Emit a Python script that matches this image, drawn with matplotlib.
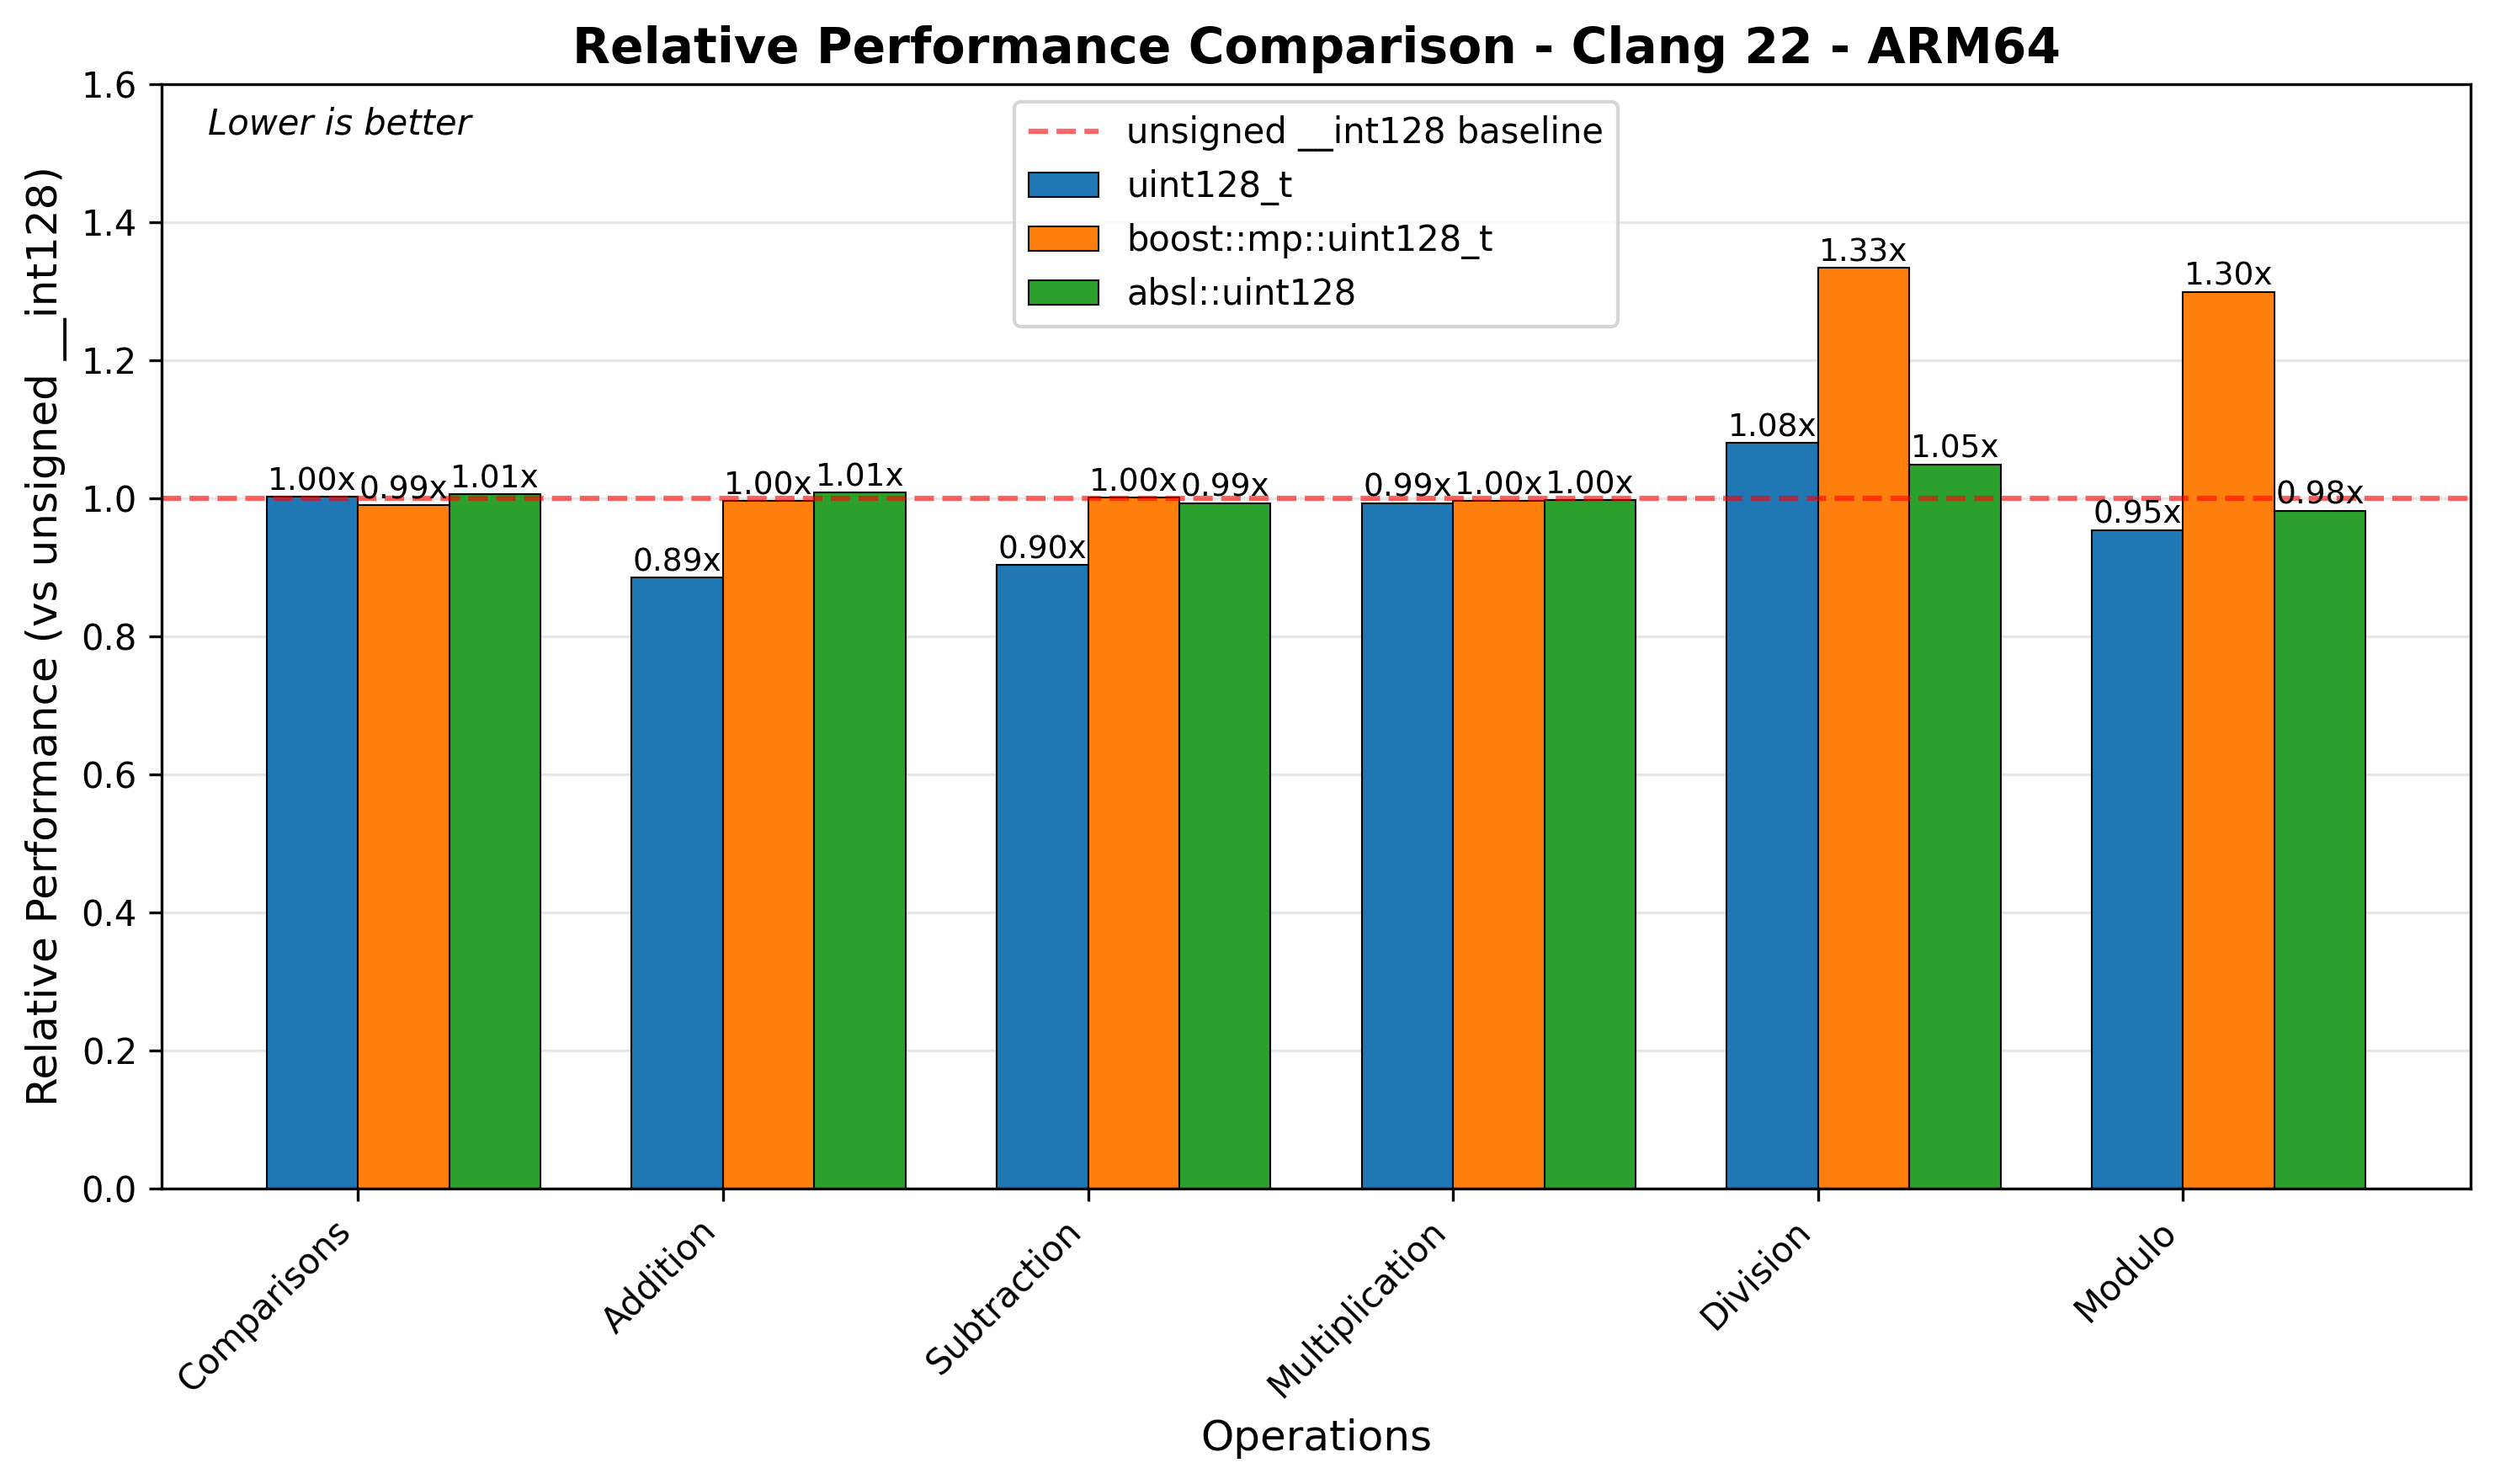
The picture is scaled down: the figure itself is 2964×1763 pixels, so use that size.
import matplotlib.pyplot as plt
import numpy as np

# Relative performance vs unsigned __int128 (lower is better)
operations = ["Comparisons", "Addition", "Subtraction", "Multiplication", "Division", "Modulo"]
uint128_t = [1.002, 0.885, 0.903, 0.993, 1.080, 0.954]
boost_mp = [0.990, 0.996, 1.001, 0.996, 1.334, 1.299]
absl_u128 = [1.006, 1.008, 0.993, 0.997, 1.049, 0.982]

series = [
    ("uint128_t", uint128_t, "#1f77b4"),
    ("boost::mp::uint128_t", boost_mp, "#ff7f0e"),
    ("absl::uint128", absl_u128, "#2ca02c"),
]

fig, ax = plt.subplots(figsize=(9.883, 5.877), dpi=300)

x = np.arange(len(operations))
width = 0.25

ax.axhline(1.0, color="red", linestyle="--", alpha=0.6, linewidth=1.5,
           label="unsigned __int128 baseline")

# offsets computed over 4 slots (baseline + 3 impls), so groups sit right of the tick
n = len(series) + 1
for i, (name, vals, color) in enumerate(series, start=1):
    offset = width * (i - (n - 1) / 2)
    bars = ax.bar(x + offset, vals, width, label=name, color=color,
                  edgecolor="black", linewidth=0.5)
    for b, v in zip(bars, vals):
        ax.text(b.get_x() + b.get_width() / 2, b.get_height(), f"{v:.2f}x",
                ha="center", va="bottom", fontsize=9)

ax.set_xlabel("Operations", fontsize=12)
ax.set_ylabel("Relative Performance (vs unsigned __int128)", fontsize=12)
ax.set_title("Relative Performance Comparison - Clang 22 - ARM64", fontsize=14, fontweight="bold")
ax.set_xticks(x)
ax.set_xticklabels(operations, rotation=45, ha="right")
ax.set_ylim(0, 1.6)
ax.grid(axis="y", alpha=0.3)
ax.set_axisbelow(True)
ax.legend(loc="upper center")
ax.text(0.02, 0.98, "Lower is better", transform=ax.transAxes, fontsize=10,
        style="italic", va="top")

fig.subplots_adjust(left=0.0648, right=0.9899, top=0.9433, bottom=0.1991)
plt.savefig("out.png", dpi=300)
